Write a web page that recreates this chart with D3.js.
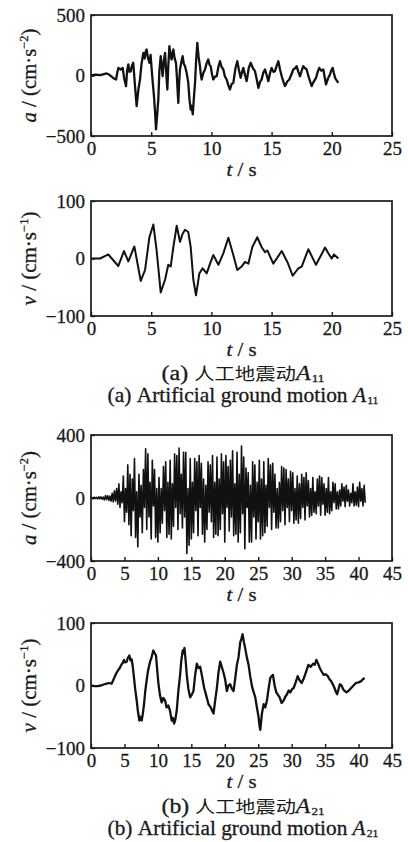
<!DOCTYPE html>
<html>
<head>
<meta charset="utf-8">
<script src="https://cdn.jsdelivr.net/npm/d3@7"></script>
<style>
  body { margin: 0; background: #fff; }
  text { font-family: "Liberation Serif", "Times New Roman", serif; fill: #1a1a1a; stroke: #1a1a1a; stroke-width: 0.3px; }
</style>
</head>
<body>
<div id="chart"></div>
<script>
// ---
// Data
// ---

// (a) A11 acceleration, cm/s^2
const a11T = [0, 0.4, 0.75, 1.0, 1.3, 1.5, 1.72, 1.9, 2.08, 2.18, 2.27, 2.45, 2.63, 2.75, 2.91, 3.0, 3.1, 3.2, 3.3, 3.4, 3.51, 3.65, 3.79, 3.93, 4.07, 4.2, 4.35, 4.45, 4.55, 4.62, 4.72, 4.85, 4.95, 5.04, 5.13, 5.23, 5.32, 5.4, 5.5, 5.59, 5.68, 5.79, 5.87, 5.95, 6.05, 6.15, 6.25, 6.34, 6.42, 6.51, 6.6, 6.7, 6.77, 6.84, 6.95, 7.06, 7.15, 7.25, 7.32, 7.39, 7.5, 7.61, 7.7, 7.81, 7.95, 8.08, 8.18, 8.28, 8.36, 8.45, 8.55, 8.64, 8.73, 8.83, 8.93, 9.05, 9.12, 9.19, 9.33, 9.47, 9.6, 9.74, 9.84, 9.94, 10.05, 10.16, 10.3, 10.44, 10.58, 10.71, 10.85, 10.99, 11.13, 11.27, 11.4, 11.54, 11.68, 11.82, 12.0, 12.15, 12.3, 12.43, 12.55, 12.65, 12.8, 12.93, 13.1, 13.26, 13.45, 13.62, 13.78, 13.9, 14.05, 14.17, 14.3, 14.45, 14.6, 14.73, 14.87, 15.0, 15.15, 15.28, 15.42, 15.56, 15.7, 15.84, 15.98, 16.11, 16.3, 16.47, 16.65, 16.8, 16.95, 17.08, 17.22, 17.36, 17.5, 17.63, 17.78, 17.91, 18.1, 18.33, 18.5, 18.69, 18.83, 18.96, 19.12, 19.3, 19.4, 19.52, 19.7, 19.85, 19.95, 20.07, 20.17, 20.27, 20.4, 20.54]
const a11V = [0, 8, 3, 10, 17, 8, -10, -25, -33, 20, 63, 50, 63, -20, -88, 40, 91, 30, 36, 80, 105, -80, -253, -120, -33, 100, 187, 140, 200, 215, 150, 105, 170, 50, -60, -171, -300, -446, -320, -198, 40, 160, 80, -6, 120, 187, 20, -116, 80, 242, 160, 132, 190, 215, 140, 105, -40, -226, -60, 50, 110, 160, 100, 77, 20, -61, -200, -281, -250, -322, -180, -61, 120, 270, 160, 77, 10, -33, 20, 50, 100, 132, 90, 77, 10, -33, -10, -6, 70, 118, 70, 50, -10, -33, -80, -116, -70, -61, 60, 118, 40, -19, 30, 63, 0, -47, 60, 105, 60, 36, -40, -102, -50, -33, 20, 50, 0, -47, 20, 63, 30, 36, 80, 118, 50, -6, -50, -88, -50, -33, 10, 50, 60, 77, 30, -6, 40, 77, 60, 50, -20, -88, -50, -19, 30, 63, 40, 50, -10, -74, -20, 8, 40, 63, 20, -19, -40, -61]

// (a) A11 velocity, cm/s
const v11T = [0, 0.75, 1.44, 2.27, 2.74, 3.1, 3.6, 4.13, 4.49, 4.85, 5.18, 5.45, 5.79, 6.15, 6.42, 6.62, 6.84, 7.12, 7.39, 7.61, 7.81, 8.08, 8.28, 8.5, 8.72, 9.0, 9.27, 9.61, 9.94, 10.16, 10.58, 10.99, 11.41, 11.82, 12.15, 12.51, 12.79, 13.07, 13.4, 13.81, 14.17, 14.45, 14.65, 15.14, 15.84, 16.31, 16.75, 17.22, 17.5, 18.05, 18.69, 19.44, 19.71, 19.99, 20.18, 20.54]
const v11V = [0, 0, 7, -13, 13, -5, 21, -39, -20, 37, 59, 14, -59, -37, -11, -14, 20, 57, 29, 43, 50, 46, 20, -37, -64, -26, -17, -26, -6, 6, -11, 9, 36, 6, -20, -14, -6, -9, 20, 37, 20, 11, 14, -9, 13, -6, -30, -17, -14, 16, -11, 19, 9, 0, 7, 0]

// (b) A21 acceleration, cm/s^2, one sample every 1/6 s
const a21Dt = 1 / 6
const a21V = [
  0, 3, -4, 5, -3, 4,
  -6, 8, -5, 7, -8, 6,
  -12, 15, -10, 14, -15, 12,
  -20, 30, -25, 45, -18, 60,
  -40, 90, -60, 40, -30, 140,
  -150, 60, -90, 210, -170, 150,
  -240, 120, -80, 250, -250, 40,
  -310, 150, -120, 80, -220, 180,
  -60, 313, -200, 280, -120, 100,
  -260, 240, -50, 180, -250, 60,
  -280, 130, -220, 60, -160, 200,
  -80, 230, -250, 100, -230, 240,
  -260, 90, -180, 280, -60, 270,
  -200, 317, -100, 150, -190, 290,
  -120, 290, -353, 60, -300, 250,
  -260, 100, -220, 250, -80, 230,
  -240, 270, -60, 220, -230, 120,
  -280, 80, -200, 230, -90, 210,
  -150, 270, -250, 100, -230, 260,
  -240, 120, -200, 280, -100, 230,
  -280, 270, -60, 200, -210, 240,
  -120, 300, -240, 90, -230, 290,
  -280, 150, -220, 330, -100, 260,
  -322, 190, -60, 160, -280, 80,
  -280, 230, -120, 210, -260, 100,
  -150, 240, -260, 120, -240, 230,
  -220, 80, -180, 250, -60, 210,
  -200, 220, -90, 150, -190, 60,
  -190, 100, -150, 200, -80, 190,
  -170, 180, -60, 120, -150, 170,
  -80, 160, -160, 60, -140, 140,
  -160, 90, -130, 150, -60, 130,
  -140, 160, -50, 110, -120, 60,
  -110, 130, -90, 40, -100, 120,
  -50, 140, -110, 130, -40, 90,
  -110, 60, -90, 130, -100, 40,
  -80, 100, -30, 90, -70, 40,
  -70, 50, -50, 90, -20, 70,
  -55, 80, -20, 50, -50, 30,
  -30, 90, -50, 40, -45, 70,
  -55, 100, -20, 60, -50, 80,
  -30
]

// (b) A21 velocity, cm/s
const v21T = [0, 0.5, 1.0, 1.5, 2.0, 2.34, 2.7, 3.09, 3.3, 3.59, 3.8, 4.09, 4.3, 4.58, 4.75, 4.93, 5.1, 5.33, 5.5, 5.73, 5.9, 6.08, 6.25, 6.43, 6.6, 6.83, 7.0, 7.23, 7.4, 7.58, 7.75, 7.93, 8.1, 8.33, 8.55, 8.83, 9.05, 9.32, 9.5, 9.72, 9.9, 10.07, 10.3, 10.57, 10.8, 11.07, 11.3, 11.57, 11.8, 12.07, 12.25, 12.42, 12.6, 12.82, 13.05, 13.32, 13.5, 13.72, 13.85, 13.97, 14.15, 14.32, 14.55, 14.82, 15.05, 15.32, 15.55, 15.82, 16.05, 16.32, 16.6, 16.92, 17.2, 17.57, 17.9, 18.1, 18.32, 18.55, 18.82, 19.05, 19.32, 19.55, 19.82, 20.05, 20.31, 20.55, 20.81, 21.05, 21.31, 21.55, 21.81, 22.05, 22.31, 22.5, 22.66, 22.85, 23.06, 23.3, 23.56, 23.8, 24.06, 24.3, 24.56, 24.8, 25.06, 25.2, 25.31, 25.55, 25.81, 26.05, 26.3, 26.55, 26.8, 27.0, 27.2, 27.45, 27.7, 27.95, 28.2, 28.5, 28.8, 29.05, 29.3, 29.55, 29.8, 30.05, 30.3, 30.6, 30.9, 31.2, 31.5, 31.75, 32.0, 32.25, 32.5, 32.85, 33.2, 33.45, 33.7, 33.95, 34.2, 34.5, 34.8, 35.1, 35.4, 35.65, 35.9, 36.15, 36.4, 36.6, 36.8, 37.0, 37.2, 37.45, 37.7, 37.95, 38.2, 38.55, 38.9, 39.25, 39.6, 40.0, 40.4, 40.65, 40.9]
const v21V = [0, -1, -1, 0, 2, 3, 4, 3, 8, 15, 20, 25, 28, 34, 36, 41, 37, 38, 44, 48, 40, 42, 30, 12, -5, -24, -40, -56, -50, -56, -45, -30, -10, 9, 25, 38, 45, 56, 52, 48, 25, 4, -15, -27, -20, -24, -35, -32, -40, -56, -52, -61, -55, -40, -10, 17, 40, 56, 52, 60, 40, 17, -5, -19, -15, -9, 15, 35, 28, 30, 15, -4, -15, -30, -35, -40, -45, -25, -4, 20, 38, 30, 20, 10, -9, 0, 2, -5, -9, 10, 33, 45, 69, 75, 82, 70, 59, 45, 33, 15, -1, -10, -19, -35, -51, -65, -71, -45, -30, -35, -24, -5, 12, 15, 17, 0, -11, -15, -19, -28, -24, -18, -14, -8, -11, -6, -4, 5, 15, 8, 4, 10, 17, 25, 33, 30, 35, 33, 41, 35, 28, 22, 17, 18, 15, 10, 7, 2, -4, -10, -14, -6, 2, 0, -6, -9, -11, -8, -4, 0, 4, 5, 7, 10, 12]

// Ticks
const xTicksA = [0, 5, 10, 15, 20, 25]
const xTicksB = [0, 5, 10, 15, 20, 25, 30, 35, 40, 45]

// ---
// Layout
// ---
const width = 408
const height = 842
const left = 91
const right = 392

const svg = d3.select('#chart').append('svg')
  .attr('width', width)
  .attr('height', height)

// stretch a text (anchored at its middle) to the width it has in the reference
function fitText (t, pre, w) {
  const k = w / t.node().getBBox().width
  t.attr('transform', `${pre} scale(${k}, 1)`)
}

function drawPanel ({ top, bottom, xTicks, yMax, data, yName, yPow, lineWidth }) {
  const x = d3.scaleLinear()
    .domain([xTicks[0], xTicks[xTicks.length - 1]])
    .range([left, right])

  const y = d3.scaleLinear()
    .domain([-yMax, yMax])
    .range([bottom, top])

  const g = svg.append('g')

  // Axes
  const xAxis = d3.axisBottom(x)
    .tickValues(xTicks)
    .tickSize(-4)
    .tickPadding(6)
    .tickFormat(d3.format('d'))

  const yAxis = d3.axisLeft(y)
    .tickValues([-yMax, 0, yMax])
    .tickSize(-4)
    .tickPadding(6)

  g.append('g')
    .attr('transform', `translate(0, ${bottom})`)
    .call(xAxis)
    .call(s => s.select('.domain').remove())

  g.append('g')
    .attr('transform', `translate(${left}, 0)`)
    .call(yAxis)
    .call(s => s.select('.domain').remove())

  g.selectAll('.tick text')
    .attr('font-size', 19)
  g.selectAll('.tick line')
    .attr('stroke', '#1a1a1a')
    .attr('stroke-width', 1.4)

  // Signal
  const line = d3.line()
    .x(d => x(d[0]))
    .y(d => y(d[1]))

  g.append('path')
    .datum(data)
    .attr('fill', 'none')
    .attr('stroke', '#111')
    .attr('stroke-width', lineWidth)
    .attr('stroke-linejoin', 'round')
    .attr('d', line)

  // Frame
  g.append('rect')
    .attr('x', left)
    .attr('y', top)
    .attr('width', right - left)
    .attr('height', bottom - top)
    .attr('fill', 'none')
    .attr('stroke', '#1a1a1a')
    .attr('stroke-width', 1.7)

  // Axis titles
  const yt = g.append('text')
    .attr('text-anchor', 'middle')
    .attr('font-size', 20)
  yt.append('tspan').attr('font-style', 'italic').text(yName)
  yt.append('tspan').text(' / (cm·s')
  yt.append('tspan').attr('font-size', 12).attr('dy', -8).text(yPow)
  yt.append('tspan').attr('dy', 8).text(')')
  fitText(yt, `translate(36, ${(top + bottom) / 2}) rotate(-90)`, 94)

  const xt = g.append('text')
    .attr('text-anchor', 'middle')
    .attr('font-size', 18)
  xt.append('tspan').attr('font-style', 'italic').text('t')
  xt.append('tspan').text(' / s')
  fitText(xt, `translate(${(left + right) / 2}, ${bottom + 40})`, 30)
}

function caption (yPos, label, sub, cjk) {
  const t = svg.append('text')
    .attr('text-anchor', 'middle')
    .attr('font-size', 20)
  t.append('tspan').text(`(${label})  `)
  if (cjk) {
    t.append('tspan')
      .attr('font-family', '"Noto Sans CJK SC"')
      .attr('font-size', 17)
      .attr('stroke-width', 0)
      .text('人工地震动')
  } else {
    t.append('tspan').text('Artificial ground motion ')
  }
  t.append('tspan').attr('font-style', 'italic').text('A')
  t.append('tspan').attr('font-size', 11).attr('dx', 1).attr('dy', 2).text(sub)
  fitText(t, `translate(243, ${yPos})`, cjk ? 163 : 270)
}

drawPanel({ top: 15, bottom: 136, xTicks: xTicksA, yMax: 500, data: a11T.map((t, i) => [t, a11V[i]]), yName: 'a', yPow: '−2', lineWidth: 2.3 })
drawPanel({ top: 201, bottom: 316, xTicks: xTicksA, yMax: 100, data: v11T.map((t, i) => [t, v11V[i]]), yName: 'v', yPow: '−1', lineWidth: 2 })
caption(380, 'a', '11', true)
caption(402, 'a', '11', false)

drawPanel({ top: 435, bottom: 561, xTicks: xTicksB, yMax: 400, data: a21V.map((v, i) => [i * a21Dt, v]), yName: 'a', yPow: '−2', lineWidth: 1.6 })
drawPanel({ top: 623, bottom: 748, xTicks: xTicksB, yMax: 100, data: v21T.map((t, i) => [t, v21V[i]]), yName: 'v', yPow: '−1', lineWidth: 2.3 })
caption(813, 'b', '21', true)
caption(835, 'b', '21', false)
</script>
</body>
</html>
